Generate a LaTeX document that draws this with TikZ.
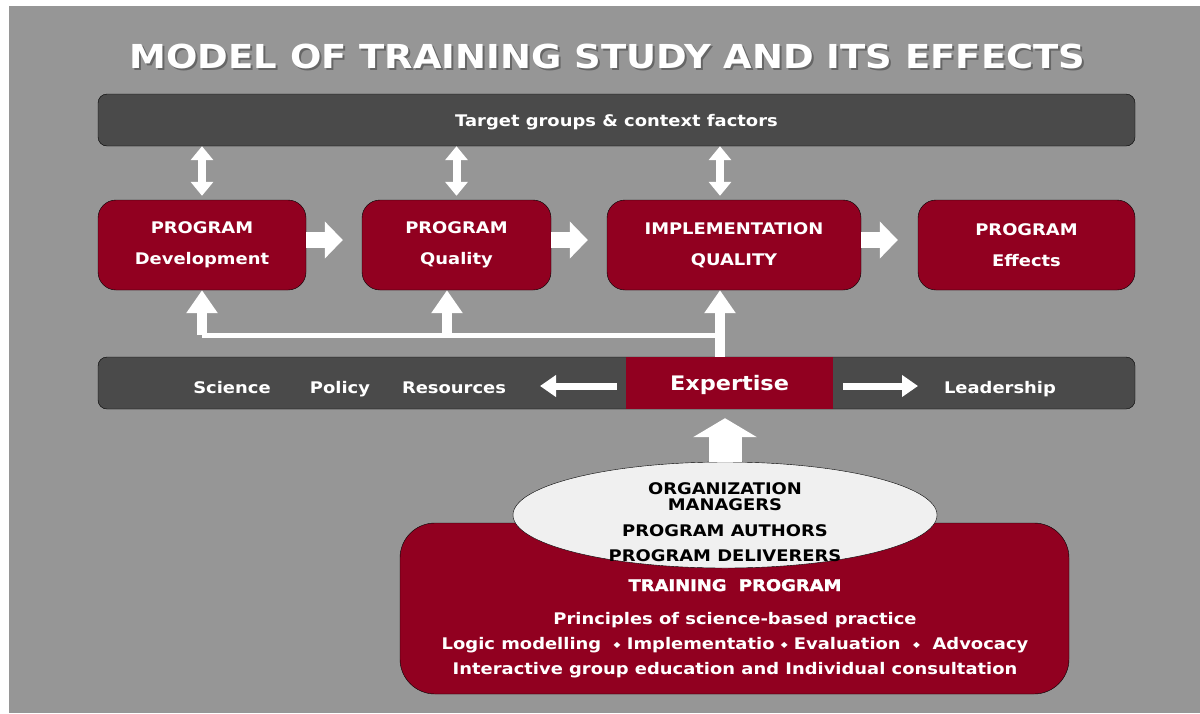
\documentclass[tikz,border=0pt]{standalone}
\usepackage{fontspec}
\setmainfont{DejaVu Sans}[FakeStretch=1.12]
\usetikzlibrary{arrows.meta,shapes.geometric}
\definecolor{bggray}{HTML}{969696}
\definecolor{bardark}{HTML}{4A4A4A}
\definecolor{boxred}{HTML}{910020}
\definecolor{ovalfill}{HTML}{F0F0F0}
\newcommand{\bulletdia}{{\fontsize{8}{8}\selectfont\raisebox{1.5pt}{◆}}}
\begin{document}
\begin{tikzpicture}[x=1pt,y=-1pt,
    bar/.style={draw=black,fill=bardark,rounded corners=9pt,minimum width=1037pt,minimum height=52pt},
    stage/.style={draw=black,fill=boxred,rounded corners=18pt,minimum height=90pt,
      text=white,font=\bfseries\fontsize{16}{31}\selectfont,align=center},
    lbl/.style={text=white,font=\bfseries\fontsize{16}{16}\selectfont,text height=13pt,text depth=1pt},
    inktext/.style={lbl,text=black},
    link/.style={white,line width=8pt,{Triangle[width=22pt,length=14pt]}-{Triangle[width=22pt,length=14pt]}},
    next/.style={white,line width=16pt,-{Triangle[width=36pt,length=18pt]}},
    feed/.style={white,line width=10pt,-{Triangle[width=30pt,length=23pt]}},
    side/.style={white,line width=7pt,-{Triangle[width=21pt,length=16pt]}}]
  \useasboundingbox (0,0) rectangle (1200,713);
  \fill[bggray] (9,6) rectangle (1200,713);
  % title
  \node[text=black!60,font=\bfseries\fontsize{33}{33}\selectfont] (titleshade) at (609.5,58) {MODEL OF TRAINING STUDY AND ITS EFFECTS};
  \node[text=white,font=\bfseries\fontsize{33}{33}\selectfont] (title) at (607.5,56) {MODEL OF TRAINING STUDY AND ITS EFFECTS};
  % bars
  \node[bar,lbl] (groups) at (616.5,120) {Target groups \& context factors};
  \node[bar] (context) at (616.5,383) {};
  \node[lbl] (science) at (232,387) {Science};
  \node[lbl] (policy) at (340,387) {Policy};
  \node[lbl] (resources) at (454,387) {Resources};
  \node[lbl] (leadership) at (1000,387) {Leadership};
  \node[fill=boxred,minimum width=207pt,minimum height=52pt,text=white,text height=16pt,text depth=2pt,
    font=\bfseries\fontsize{20}{20}\selectfont] (expertise) at (729.5,383) {Expertise};
  % stages
  \node[stage,minimum width=208pt] (develop) at (202,245) {PROGRAM\\Development};
  \node[stage,minimum width=189pt] (quality) at (456.5,245) {PROGRAM\\Quality};
  \node[stage,minimum width=254pt] (implement) at (734,245) {IMPLEMENTATION\\QUALITY};
  \node[stage,minimum width=217pt] (effects) at (1026.5,245) {PROGRAM\\Effects};
  \draw[next,shorten >=19pt] ([yshift=5pt]develop.east) -- ([yshift=5pt]quality.west);
  \draw[next,shorten >=19pt] ([yshift=5pt]quality.east) -- ([yshift=5pt]implement.west);
  \draw[next,shorten >=20pt] ([yshift=5pt]implement.east) -- ([yshift=5pt]effects.west);
  % links to target groups
  \coordinate (j1) at (202,335);
  \coordinate (j2) at (447,335);
  \coordinate (spine) at (720,335);
  \draw[link,shorten >=4pt] (groups.south -| develop) -- (develop.north);
  \draw[link,shorten >=4pt] (groups.south -| quality) -- (quality.north);
  \draw[link,shorten >=4pt] (groups.south -| spine) -- (implement.north -| spine);
  % feedback from expertise
  \draw[white,line width=5pt] (j1) -- (spine);
  \draw[feed] (j1) -- (develop.south);
  \draw[feed] (j2) -- (j2 |- quality.south);
  \draw[feed] (expertise.north -| spine) -- (implement.south -| spine);
  \coordinate (leftend) at (540,386);
  \coordinate (rightend) at (918,386);
  \draw[side] ([xshift=-9pt,yshift=-3pt]expertise.west) -- (leftend);
  \draw[side] ([xshift=10pt,yshift=-3pt]expertise.east) -- (rightend);
  % training program
  \node[draw=black,fill=boxred,rounded corners=35pt,minimum width=669pt,minimum height=171pt] (training) at (734.5,608.5) {};
  \node[ellipse,draw=black,fill=ovalfill,minimum width=424pt,minimum height=106pt] (oval) at (725,515) {};
  \draw[white,line width=33pt,-{Triangle[width=63pt,length=19pt]},shorten >=9pt] (oval.north) -- (oval.north |- expertise.south);
  \node[inktext] (orgname) at (725,488) {ORGANIZATION};
  \node[inktext] (managers) at (725,504) {MANAGERS};
  \node[inktext] (authors) at (725,530) {PROGRAM AUTHORS};
  \node[inktext] (deliverers) at (725,555) {PROGRAM DELIVERERS};
  \node[lbl] (progtitle) at (735,585) {\addfontfeature{FakeBold=2}TRAINING\ \ PROGRAM};
  \node[lbl] (principles) at (735,618) {Principles of science-based practice};
  \node[lbl] (methods) at (735,643) {Logic modelling\ \ \bulletdia\ Implementatio \bulletdia\ Evaluation\ \ \bulletdia\ \ Advocacy};
  \node[lbl] (delivery) at (735,668) {Interactive group education and Individual consultation};
\end{tikzpicture}
\end{document}
